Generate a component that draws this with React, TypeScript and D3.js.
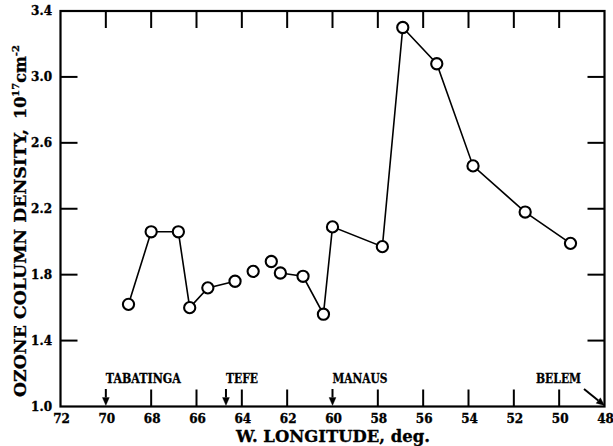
import React from "react";
import * as d3 from "d3";

// Longitude (deg W) and ozone column density (1e17 cm^-2) along the flight track
const lonWest = [69.0, 68.0, 66.8, 66.3, 65.5, 64.3, 63.5, 62.7, 62.3, 61.3, 60.4, 60.0, 57.8, 56.9, 55.4, 53.8, 51.5, 49.5];
const ozone = [1.62, 2.06, 2.06, 1.60, 1.72, 1.76, 1.82, 1.88, 1.81, 1.79, 1.56, 2.09, 1.97, 3.30, 3.08, 2.46, 2.18, 1.99];
// index ranges joined by line segments
const segments: [number, number][] = [[0, 5], [8, 17]];

const xTicks = [72, 70, 68, 66, 64, 62, 60, 58, 56, 54, 52, 50, 48];
const yTicks = [1.0, 1.4, 1.8, 2.2, 2.6, 3.0, 3.4];

const siteNames = ["TABATINGA", "TEFE", "MANAUS", "BELEM"];
const siteLon = [70.0, 64.7, 60.0, 48.0];

const W = 613, H = 446;
const FONT = "'DejaVu Serif', serif";

export default function App() {
  const x = d3.scaleLinear().domain([72, 48]).range([60.5, 604.5]);
  const y = d3.scaleLinear().domain([1.0, 3.4]).range([406.5, 11]);
  const x0 = x(72), x1 = x(48), y0 = y(1.0), y1 = y(3.4);
  const tickLen = 17;

  const line = d3.line<number>().x((i) => x(lonWest[i])).y((i) => y(ozone[i]));

  const arrow = (xa: number, ya: number, xb: number, yb: number, key: string) => {
    const ang = Math.atan2(yb - ya, xb - xa);
    const hl = 8, hw = 3.5;
    const bx = xb - hl * Math.cos(ang), by = yb - hl * Math.sin(ang);
    const px = -Math.sin(ang) * hw, py = Math.cos(ang) * hw;
    return (
      <g key={key}>
        <line x1={xa} y1={ya} x2={bx} y2={by} stroke="#000" strokeWidth={2} />
        <path d={`M${xb},${yb}L${bx + px},${by + py}L${bx - px},${by - py}Z`} fill="#000" />
      </g>
    );
  };

  return (
    <svg width={W} height={H} style={{ position: "absolute", left: 0, top: 0, background: "#fff" }}>
      <rect x={0} y={0} width={W} height={H} fill="#fff" />

      {/* inward ticks on all four sides */}
      <g stroke="#000" strokeWidth={2}>
        {yTicks.slice(1, -1).map((t) => (
          <g key={"yt" + t}>
            <line x1={x0} x2={x0 + tickLen} y1={y(t)} y2={y(t)} />
            <line x1={x1} x2={x1 - tickLen} y1={y(t)} y2={y(t)} />
          </g>
        ))}
        {xTicks.slice(1, -1).map((t) => (
          <g key={"xt" + t}>
            <line x1={x(t)} x2={x(t)} y1={y1} y2={y1 + tickLen} />
            {t !== 70 && t !== 60 && <line x1={x(t)} x2={x(t)} y1={y0} y2={y0 - tickLen} />}
          </g>
        ))}
      </g>

      {/* frame */}
      <rect x={x0} y={y1} width={x1 - x0} height={y0 - y1} fill="none" stroke="#000" strokeWidth={2.2} />

      {/* tick labels */}
      <g fontFamily={FONT} fontWeight="bold" fontSize={12} fill="#000" stroke="#000" strokeWidth={0.35}>
        {yTicks.map((t) => (
          <text key={"yl" + t} x={52} y={y(t)} dy="0.36em" textAnchor="end">{t.toFixed(1)}</text>
        ))}
        {xTicks.map((t) => (
          <text key={"xl" + t} x={x(t) + 1} y={419} dy="0.36em" textAnchor="middle">{t}</text>
        ))}
      </g>

      {/* axis titles */}
      <text x={333} y={441.5} textAnchor="middle" fontFamily={FONT} fontWeight="bold" fontSize={16}
        textLength={194} lengthAdjust="spacingAndGlyphs" stroke="#000" strokeWidth={0.3}>W. LONGITUDE, deg.</text>
      <text transform="translate(26,397) rotate(-90)" fontFamily={FONT} fontWeight="bold" fontSize={16}
        stroke="#000" strokeWidth={0.3}>
        <tspan textLength={268} lengthAdjust="spacingAndGlyphs">OZONE COLUMN DENSITY,</tspan>
        <tspan dx={10}>10</tspan>
        <tspan fontSize={10} dy={-7}>17</tspan>
        <tspan dy={7}>cm</tspan>
        <tspan fontSize={10} dy={-7}>-2</tspan>
      </text>

      {/* station markers */}
      <g fontFamily={FONT} fontWeight="bold" fontSize={12} fill="#000" stroke="#000" strokeWidth={0.3}>
        {siteNames.map((n, i) => {
          const xs = x(siteLon[i]);
          const last = i === siteNames.length - 1;
          const widths = [75, 32, 55, 45];
          return (
            <g key={n}>
              <text x={last ? 536 : xs} y={382.5} textLength={widths[i]} lengthAdjust="spacingAndGlyphs">{n}</text>
              {last ? arrow(584, 389, xs, y0 - 1, n + "a") : arrow(xs, 389, xs, y0 - 1, n + "a")}
            </g>
          );
        })}
      </g>

      {/* data */}
      <g fill="none" stroke="#000" strokeWidth={1.6}>
        {segments.map(([a, b], k) => (
          <path key={"s" + k} d={line(d3.range(a, b + 1)) || ""} />
        ))}
      </g>
      <g fill="#fff" stroke="#000" strokeWidth={2.1}>
        {lonWest.map((l, i) => (
          <circle key={"p" + i} cx={x(l)} cy={y(ozone[i])} r={5.6} />
        ))}
      </g>
    </svg>
  );
}
